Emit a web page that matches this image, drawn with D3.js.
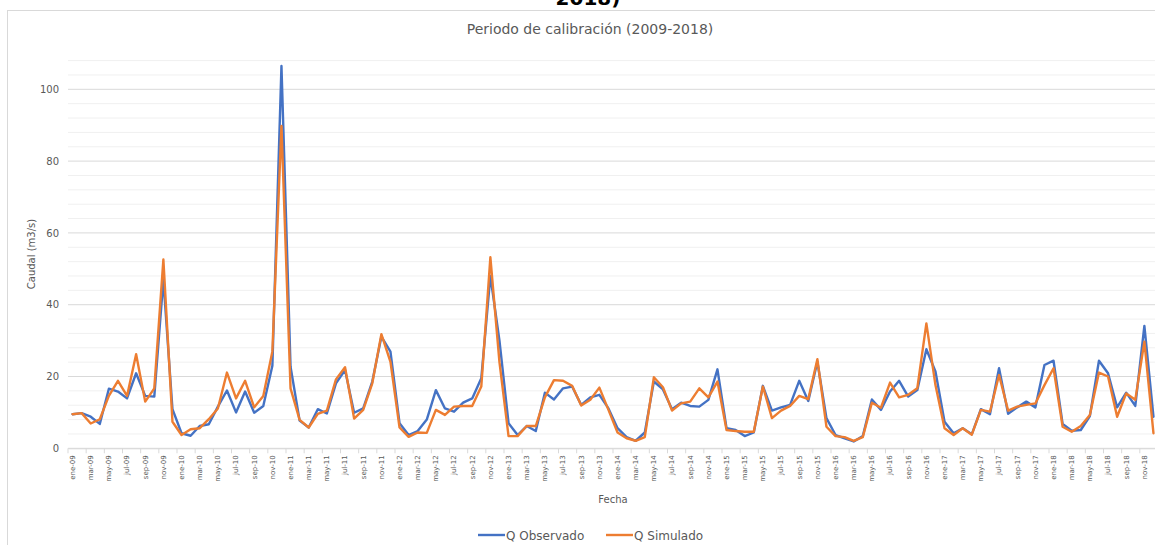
<!DOCTYPE html>
<html><head><meta charset="utf-8">
<script src="https://cdn.jsdelivr.net/npm/d3@7"></script>
<style>body{margin:0;background:#fff}svg{display:block}text{font-family:"DejaVu Sans",sans-serif}</style>
</head><body>
<svg id="c" width="1155" height="545"></svg>
<script>
const monthAbbr = ["ene","feb","mar","abr","may","jun","jul","ago","sep","oct","nov","dic"];
const years = ["09","10","11","12","13","14","15","16","17","18"];
const categories = [];
years.forEach(y => monthAbbr.forEach(m => categories.push(m + "-" + y)));

const observed = [
 9.5, 9.8, 8.8, 6.8, 16.6, 15.8, 13.9, 20.9, 14.6, 14.4,
 47, 10.9, 4.2, 3.5, 6.2, 6.7, 11.6, 16.1, 10.0, 15.8,
 9.9, 11.8, 23, 106.5, 22.7, 7.7, 5.8, 10.9, 9.7, 18.1,
 21.8, 9.9, 11.1, 18.6, 31.1, 26.9, 7.0, 3.7, 4.8, 8.0,
 16.2, 11.1, 10.2, 12.7, 13.9, 19.5, 48, 30, 7.0, 3.7,
 6.2, 4.8, 15.5, 13.6, 16.7, 17.2, 12.1, 14.2, 14.9, 11.1,
 5.6, 3.1, 2.1, 4.4, 18.6, 16.4, 10.9, 12.7, 11.8, 11.6,
 13.5, 22.0, 5.6, 5.1, 3.4, 4.4, 17.4, 10.5, 11.4, 12.1,
 18.8, 13.2, 24.1, 8.4, 3.7, 2.8, 1.9, 3.4, 13.6, 10.7,
 15.8, 18.8, 14.4, 16.2, 27.6, 21.4, 7.4, 4.2, 5.6, 3.9,
 10.9, 9.5, 22.3, 9.6, 11.4, 13.0, 11.4, 23.2, 24.4, 6.8,
 4.9, 5.1, 9.0, 24.4, 20.9, 11.4, 15.5, 11.8, 34.1, 8.8];
const simulated = [
 9.5, 9.8, 6.9, 8.1, 14.6, 18.8, 14.6, 26.2, 13.0, 16.7,
 52.6, 7.4, 3.7, 5.3, 5.6, 8.1, 11.1, 21.1, 13.9, 18.8,
 11.4, 14.6, 27, 89.8, 16.7, 7.9, 5.8, 9.6, 10.5, 19.2,
 22.6, 8.3, 10.7, 18.1, 31.8, 24.1, 5.8, 3.2, 4.4, 4.3,
 10.7, 9.3, 11.6, 11.8, 11.8, 17.2, 53.2, 24, 3.4, 3.4,
 6.2, 6.2, 14.2, 19.0, 18.8, 17.4, 11.9, 13.5, 16.9, 10.7,
 4.4, 2.8, 2.1, 3.1, 19.8, 17.0, 10.5, 12.5, 13.0, 16.7,
 14.2, 18.6, 5.1, 4.8, 4.6, 4.6, 17.2, 8.4, 10.5, 11.8,
 14.6, 13.7, 24.8, 6.0, 3.4, 3.1, 2.1, 3.1, 12.7, 11.3,
 18.3, 14.2, 14.9, 16.7, 34.8, 17.6, 5.6, 3.7, 5.6, 3.8,
 10.7, 10.2, 20.4, 10.5, 11.6, 12.1, 12.5, 17.6, 22.3, 6.0,
 4.6, 6.2, 9.3, 21.1, 20.0, 8.8, 15.3, 13.5, 29.7, 4.2];
const yTicks = [0, 20, 40, 60, 80, 100];
const series = [
  {name: "Q Observado", values: observed, color: "#4472C4"},
  {name: "Q Simulado", values: simulated, color: "#ED7D31"}
];

const svg = d3.select("#c");
const L = 68, R = 1158, T = 60.6, B = 448.3;

// frame
svg.append("rect").attr("x", 7.5).attr("y", 10.5).attr("width", 1170).attr("height", 560)
  .attr("fill", "none").attr("stroke", "#d9d9d9").attr("stroke-width", 1);
// cut-off heading above
svg.append("text").attr("x", 588).attr("y", 4.5).attr("text-anchor", "middle")
  .attr("font-size", 20).attr("font-weight", "bold").attr("fill", "#000").text("2018)");

const x = d3.scaleBand().domain(categories).range([L, R]);
const y = d3.scaleLinear().domain([0, 108]).range([B, T]);

// gridlines
const minor = d3.range(0, 109, 4);
svg.append("g").selectAll("line").data(minor).join("line")
  .attr("x1", L).attr("x2", R).attr("y1", d => y(d)).attr("y2", d => y(d))
  .attr("stroke", d => d % 20 === 0 ? "#d9d9d9" : "#f0f0f0").attr("stroke-width", 1);

// y axis labels
const ya = svg.append("g").attr("transform", `translate(${L},0)`)
  .call(d3.axisLeft(y).tickValues(yTicks).tickSize(0).tickPadding(9));
ya.select(".domain").remove();
ya.selectAll("text").attr("font-size", 10).attr("fill", "#595959").attr("font-family", '"DejaVu Sans",sans-serif');

// x axis
const xa = svg.append("g").attr("transform", `translate(0,${B})`)
  .call(d3.axisBottom(x).tickValues(categories.filter((d, i) => i % 2 === 0)).tickSize(0).tickPadding(0));
xa.select(".domain").attr("stroke", "#d9d9d9");
xa.selectAll("text").attr("font-size", 7).attr("fill", "#595959").attr("font-family", '"DejaVu Sans",sans-serif')
  .attr("transform", "rotate(-90)").attr("text-anchor", "end").attr("dy", "0.35em")
  .attr("x", -7).attr("y", 0);
// tick marks at category boundaries every 2 months
svg.append("g").selectAll("line").data(categories.filter((d, i) => i % 2 === 0)).join("line")
  .attr("x1", d => x(d)).attr("x2", d => x(d)).attr("y1", B).attr("y2", B + 5)
  .attr("stroke", "#d9d9d9");

// lines
const line = d3.line().x((d, i) => x(categories[i]) + x.bandwidth() / 2).y(d => y(d));
series.forEach(s => {
  svg.append("path").datum(s.values).attr("d", line).attr("fill", "none")
    .attr("stroke", s.color).attr("stroke-width", 2.4).attr("stroke-linejoin", "round").attr("stroke-linecap", "round");
});

// title
svg.append("text").attr("x", 590).attr("y", 34).attr("text-anchor", "middle")
  .attr("font-size", 14).attr("fill", "#595959").text("Periodo de calibración (2009-2018)");
// axis titles
svg.append("text").attr("transform", "translate(35,254) rotate(-90)").attr("text-anchor", "middle")
  .attr("font-size", 10).attr("fill", "#595959").text("Caudal (m3/s)");
svg.append("text").attr("x", 613).attr("y", 503).attr("text-anchor", "middle")
  .attr("font-size", 10).attr("fill", "#595959").text("Fecha");

// legend
const lg = svg.append("g");
const lx = [478, 606];
series.forEach((s, i) => {
  lg.append("line").attr("x1", lx[i]).attr("x2", lx[i] + 27).attr("y1", 535).attr("y2", 535)
    .attr("stroke", s.color).attr("stroke-width", 2.4);
  lg.append("text").attr("x", lx[i] + 28).attr("y", 539.5).attr("font-size", 12)
    .attr("fill", "#595959").text(s.name);
});
</script>
</body></html>
